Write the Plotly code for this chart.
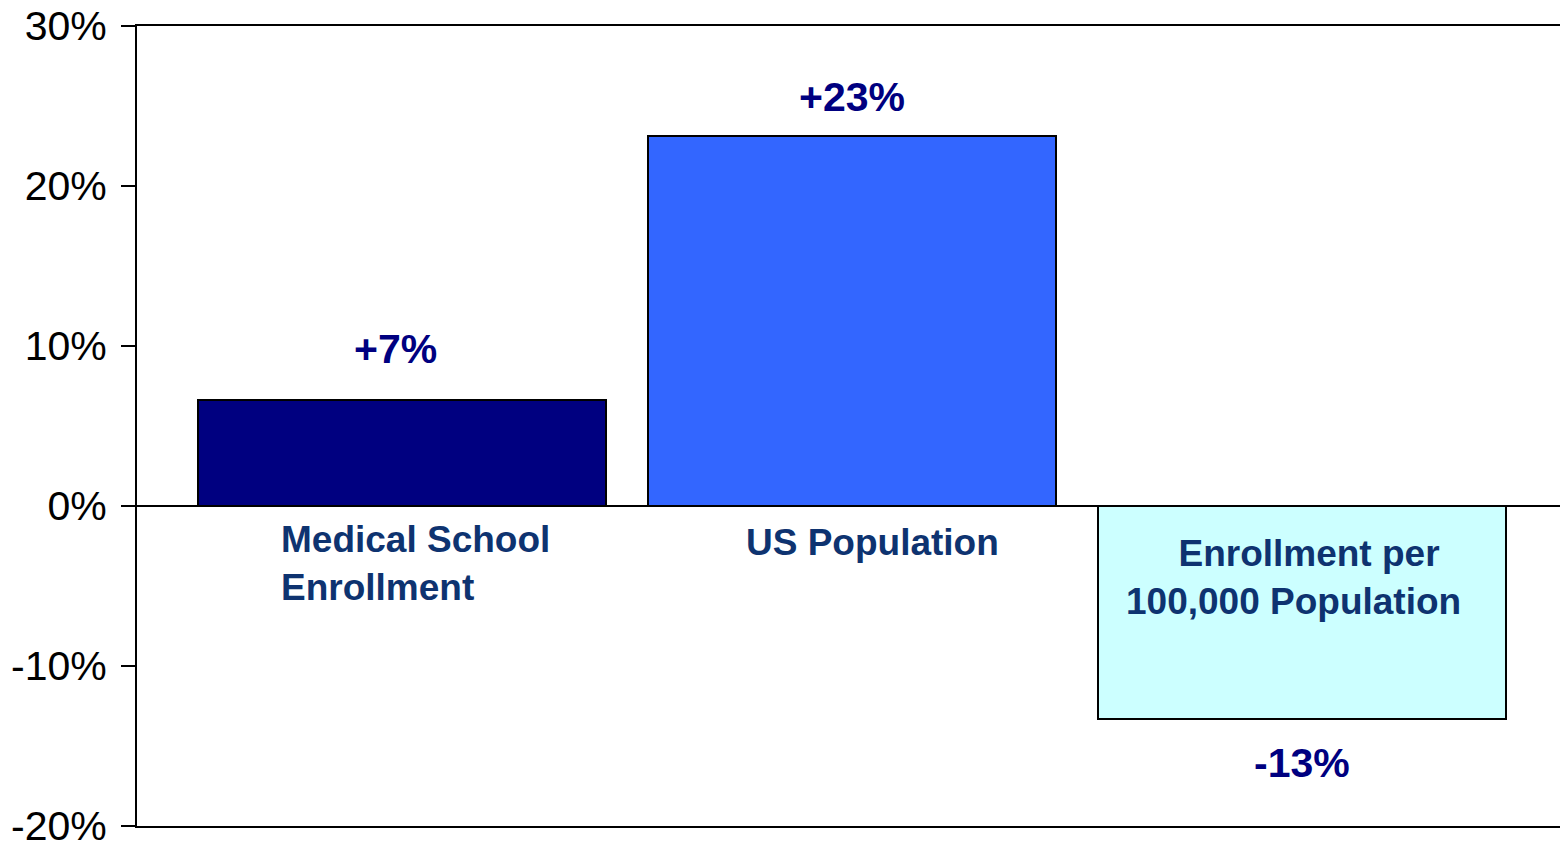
import plotly.graph_objects as go

# Percent change, by measure
categories = ["Medical School<br>Enrollment", "US Population",
              "&nbsp;&nbsp;&nbsp;Enrollment per<br>100,000 Population"]
values = [6.6, 23.1, -13.3]
bar_colors = ["#000080", "#3366FF", "#CCFFFF"]
tick_values = [-20, -10, 0, 10, 20, 30]
tick_labels = ["-20%", "-10%", "0%", "10%", "20%", "30%"]

FONT = "Liberation Sans, Arial, sans-serif"
xs = list(range(len(values)))

fig = go.Figure(
    go.Bar(
        x=xs,
        y=values,
        width=0.907,
        marker=dict(color=bar_colors, line=dict(color="black", width=2)),
        hoverinfo="skip",
    )
)

# Value labels above/below each bar
value_shift = [51, 39, -44]
for x, v, s in zip(xs, values, value_shift):
    fig.add_annotation(
        x=x, y=v, xref="x", yref="y",
        text=f"<b>{v:+.0f}%</b>",
        showarrow=False, yanchor="middle", yshift=s, xshift=-7 if x == 0 else 0,
        font=dict(family=FONT, size=41, color="#000080"),
    )

# Category labels placed inside the plot, below the zero line
cat_pos = [
    dict(x=0, y=-3.6, xanchor="left", align="left", xshift=-123),
    dict(x=1, y=-2.31, xanchor="center", align="center", xshift=20),
    dict(x=2, y=-4.44, xanchor="center", align="center", xshift=-9),
]
for label, p in zip(categories, cat_pos):
    fig.add_annotation(
        x=p["x"], y=p["y"], xref="x", yref="y",
        text=f"<b>{label}</b>",
        showarrow=False, yanchor="middle",
        xanchor=p["xanchor"], align=p["align"], xshift=p["xshift"],
        font=dict(family=FONT, size=37, color="#0E3370"),
    )

fig.update_layout(
    width=1560, height=842,
    margin=dict(l=137, r=0, t=26, b=16),
    paper_bgcolor="white", plot_bgcolor="white",
    showlegend=False,
    bargap=0,
)
fig.update_xaxes(
    range=[-0.589, 2.573],
    showticklabels=False, ticks="", showgrid=False, zeroline=False,
    showline=True, linecolor="black", linewidth=2, mirror=True,
)
fig.update_yaxes(
    range=[-20, 30],
    tickvals=tick_values, ticktext=tick_labels,
    ticks="outside", ticklen=14, tickwidth=2, tickcolor="black",
    ticklabelstandoff=6, ticklabeloverflow="allow",
    automargin=False,
    tickfont=dict(family=FONT, size=41, color="black"),
    showgrid=False,
    showline=True, linecolor="black", linewidth=2,
    zeroline=True, zerolinecolor="black", zerolinewidth=2,
)

fig.write_html("out.html")
